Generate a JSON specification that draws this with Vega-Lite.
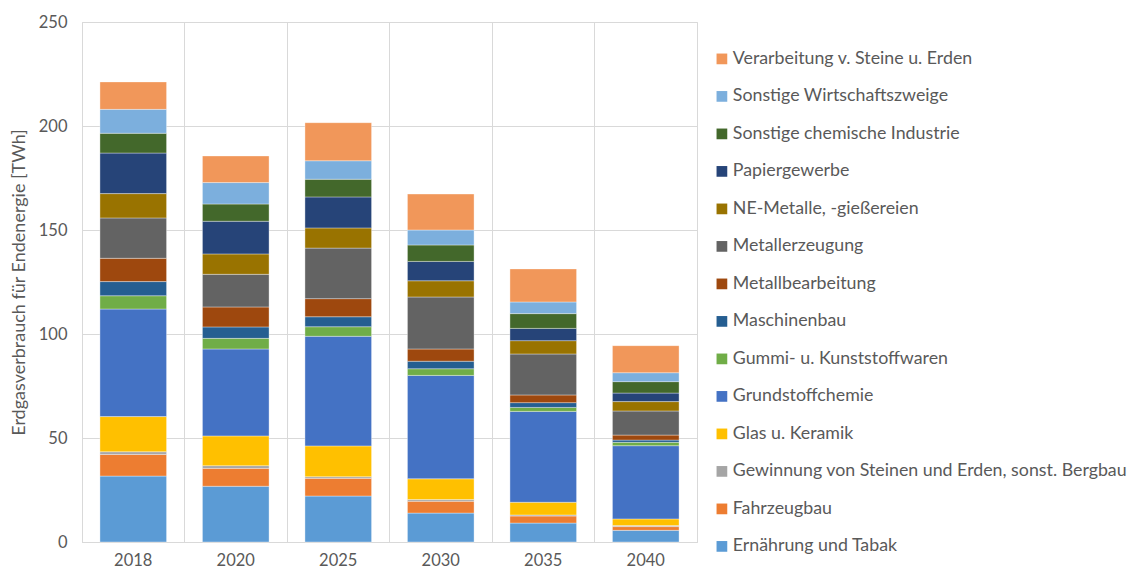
{
  "$schema": "https://vega.github.io/schema/vega-lite/v6.json",
  "autosize": {"type": "none"},
  "width": 615,
  "height": 520,
  "padding": {"left": 82, "top": 22, "right": 434, "bottom": 34},
  "background": "#ffffff",
  "config": {
    "font": "Lato",
    "view": {"stroke": "#d9d9d9", "strokeWidth": 1}
  },
  "datasets": {
    "reihenfolge": [
      {"Branche": "Ernährung und Tabak", "Rang": 1},
      {"Branche": "Fahrzeugbau", "Rang": 2},
      {"Branche": "Gewinnung von Steinen und Erden, sonst. Bergbau", "Rang": 3},
      {"Branche": "Glas u. Keramik", "Rang": 4},
      {"Branche": "Grundstoffchemie", "Rang": 5},
      {"Branche": "Gummi- u. Kunststoffwaren", "Rang": 6},
      {"Branche": "Maschinenbau", "Rang": 7},
      {"Branche": "Metallbearbeitung", "Rang": 8},
      {"Branche": "Metallerzeugung", "Rang": 9},
      {"Branche": "NE-Metalle, -gießereien", "Rang": 10},
      {"Branche": "Papiergewerbe", "Rang": 11},
      {"Branche": "Sonstige chemische Industrie", "Rang": 12},
      {"Branche": "Sonstige Wirtschaftszweige", "Rang": 13},
      {"Branche": "Verarbeitung v. Steine u. Erden", "Rang": 14}
    ]
  },
  "data": {
    "values": [
      {"Jahr": "2018", "Branche": "Ernährung und Tabak", "TWh": 31.7},
      {"Jahr": "2018", "Branche": "Fahrzeugbau", "TWh": 10.4},
      {"Jahr": "2018", "Branche": "Gewinnung von Steinen und Erden, sonst. Bergbau", "TWh": 1.3},
      {"Jahr": "2018", "Branche": "Glas u. Keramik", "TWh": 16.9},
      {"Jahr": "2018", "Branche": "Grundstoffchemie", "TWh": 51.7},
      {"Jahr": "2018", "Branche": "Gummi- u. Kunststoffwaren", "TWh": 6.4},
      {"Jahr": "2018", "Branche": "Maschinenbau", "TWh": 6.8},
      {"Jahr": "2018", "Branche": "Metallbearbeitung", "TWh": 11.2},
      {"Jahr": "2018", "Branche": "Metallerzeugung", "TWh": 19.4},
      {"Jahr": "2018", "Branche": "NE-Metalle, -gießereien", "TWh": 11.7},
      {"Jahr": "2018", "Branche": "Papiergewerbe", "TWh": 19.5},
      {"Jahr": "2018", "Branche": "Sonstige chemische Industrie", "TWh": 9.5},
      {"Jahr": "2018", "Branche": "Sonstige Wirtschaftszweige", "TWh": 11.5},
      {"Jahr": "2018", "Branche": "Verarbeitung v. Steine u. Erden", "TWh": 13.2},
      {"Jahr": "2020", "Branche": "Ernährung und Tabak", "TWh": 26.8},
      {"Jahr": "2020", "Branche": "Fahrzeugbau", "TWh": 8.6},
      {"Jahr": "2020", "Branche": "Gewinnung von Steinen und Erden, sonst. Bergbau", "TWh": 1.3},
      {"Jahr": "2020", "Branche": "Glas u. Keramik", "TWh": 14.3},
      {"Jahr": "2020", "Branche": "Grundstoffchemie", "TWh": 41.8},
      {"Jahr": "2020", "Branche": "Gummi- u. Kunststoffwaren", "TWh": 5.1},
      {"Jahr": "2020", "Branche": "Maschinenbau", "TWh": 5.5},
      {"Jahr": "2020", "Branche": "Metallbearbeitung", "TWh": 9.6},
      {"Jahr": "2020", "Branche": "Metallerzeugung", "TWh": 15.7},
      {"Jahr": "2020", "Branche": "NE-Metalle, -gießereien", "TWh": 9.8},
      {"Jahr": "2020", "Branche": "Papiergewerbe", "TWh": 15.7},
      {"Jahr": "2020", "Branche": "Sonstige chemische Industrie", "TWh": 8.3},
      {"Jahr": "2020", "Branche": "Sonstige Wirtschaftszweige", "TWh": 10.3},
      {"Jahr": "2020", "Branche": "Verarbeitung v. Steine u. Erden", "TWh": 12.8},
      {"Jahr": "2025", "Branche": "Ernährung und Tabak", "TWh": 22.1},
      {"Jahr": "2025", "Branche": "Fahrzeugbau", "TWh": 8.5},
      {"Jahr": "2025", "Branche": "Gewinnung von Steinen und Erden, sonst. Bergbau", "TWh": 0.8},
      {"Jahr": "2025", "Branche": "Glas u. Keramik", "TWh": 14.8},
      {"Jahr": "2025", "Branche": "Grundstoffchemie", "TWh": 52.7},
      {"Jahr": "2025", "Branche": "Gummi- u. Kunststoffwaren", "TWh": 4.6},
      {"Jahr": "2025", "Branche": "Maschinenbau", "TWh": 4.8},
      {"Jahr": "2025", "Branche": "Metallbearbeitung", "TWh": 8.7},
      {"Jahr": "2025", "Branche": "Metallerzeugung", "TWh": 24.3},
      {"Jahr": "2025", "Branche": "NE-Metalle, -gießereien", "TWh": 9.7},
      {"Jahr": "2025", "Branche": "Papiergewerbe", "TWh": 14.9},
      {"Jahr": "2025", "Branche": "Sonstige chemische Industrie", "TWh": 8.5},
      {"Jahr": "2025", "Branche": "Sonstige Wirtschaftszweige", "TWh": 8.9},
      {"Jahr": "2025", "Branche": "Verarbeitung v. Steine u. Erden", "TWh": 18.3},
      {"Jahr": "2030", "Branche": "Ernährung und Tabak", "TWh": 13.9},
      {"Jahr": "2030", "Branche": "Fahrzeugbau", "TWh": 5.7},
      {"Jahr": "2030", "Branche": "Gewinnung von Steinen und Erden, sonst. Bergbau", "TWh": 0.8},
      {"Jahr": "2030", "Branche": "Glas u. Keramik", "TWh": 10.0},
      {"Jahr": "2030", "Branche": "Grundstoffchemie", "TWh": 49.7},
      {"Jahr": "2030", "Branche": "Gummi- u. Kunststoffwaren", "TWh": 3.2},
      {"Jahr": "2030", "Branche": "Maschinenbau", "TWh": 3.6},
      {"Jahr": "2030", "Branche": "Metallbearbeitung", "TWh": 5.9},
      {"Jahr": "2030", "Branche": "Metallerzeugung", "TWh": 25.0},
      {"Jahr": "2030", "Branche": "NE-Metalle, -gießereien", "TWh": 7.8},
      {"Jahr": "2030", "Branche": "Papiergewerbe", "TWh": 9.3},
      {"Jahr": "2030", "Branche": "Sonstige chemische Industrie", "TWh": 7.9},
      {"Jahr": "2030", "Branche": "Sonstige Wirtschaftszweige", "TWh": 7.2},
      {"Jahr": "2030", "Branche": "Verarbeitung v. Steine u. Erden", "TWh": 17.3},
      {"Jahr": "2035", "Branche": "Ernährung und Tabak", "TWh": 9.1},
      {"Jahr": "2035", "Branche": "Fahrzeugbau", "TWh": 3.4},
      {"Jahr": "2035", "Branche": "Gewinnung von Steinen und Erden, sonst. Bergbau", "TWh": 0.5},
      {"Jahr": "2035", "Branche": "Glas u. Keramik", "TWh": 6.1},
      {"Jahr": "2035", "Branche": "Grundstoffchemie", "TWh": 43.7},
      {"Jahr": "2035", "Branche": "Gummi- u. Kunststoffwaren", "TWh": 1.9},
      {"Jahr": "2035", "Branche": "Maschinenbau", "TWh": 2.3},
      {"Jahr": "2035", "Branche": "Metallbearbeitung", "TWh": 3.7},
      {"Jahr": "2035", "Branche": "Metallerzeugung", "TWh": 19.7},
      {"Jahr": "2035", "Branche": "NE-Metalle, -gießereien", "TWh": 6.4},
      {"Jahr": "2035", "Branche": "Papiergewerbe", "TWh": 5.9},
      {"Jahr": "2035", "Branche": "Sonstige chemische Industrie", "TWh": 7.1},
      {"Jahr": "2035", "Branche": "Sonstige Wirtschaftszweige", "TWh": 5.6},
      {"Jahr": "2035", "Branche": "Verarbeitung v. Steine u. Erden", "TWh": 15.9},
      {"Jahr": "2040", "Branche": "Ernährung und Tabak", "TWh": 5.6},
      {"Jahr": "2040", "Branche": "Fahrzeugbau", "TWh": 1.8},
      {"Jahr": "2040", "Branche": "Gewinnung von Steinen und Erden, sonst. Bergbau", "TWh": 0.5},
      {"Jahr": "2040", "Branche": "Glas u. Keramik", "TWh": 3.2},
      {"Jahr": "2040", "Branche": "Grundstoffchemie", "TWh": 35.2},
      {"Jahr": "2040", "Branche": "Gummi- u. Kunststoffwaren", "TWh": 1.6},
      {"Jahr": "2040", "Branche": "Maschinenbau", "TWh": 1.1},
      {"Jahr": "2040", "Branche": "Metallbearbeitung", "TWh": 2.4},
      {"Jahr": "2040", "Branche": "Metallerzeugung", "TWh": 11.6},
      {"Jahr": "2040", "Branche": "NE-Metalle, -gießereien", "TWh": 4.5},
      {"Jahr": "2040", "Branche": "Papiergewerbe", "TWh": 4.1},
      {"Jahr": "2040", "Branche": "Sonstige chemische Industrie", "TWh": 5.5},
      {"Jahr": "2040", "Branche": "Sonstige Wirtschaftszweige", "TWh": 4.3},
      {"Jahr": "2040", "Branche": "Verarbeitung v. Steine u. Erden", "TWh": 13.0}
    ]
  },
  "transform": [
    {"lookup": "Branche", "from": {"data": {"name": "reihenfolge"}, "key": "Branche", "fields": ["Rang"]}}
  ],
  "mark": {"type": "bar", "width": {"band": 0.65}, "stroke": "#ffffff", "strokeWidth": 0.6, "strokeOpacity": 0.6},
  "encoding": {
    "x": {
      "field": "Jahr",
      "type": "nominal",
      "scale": {"paddingInner": 0, "paddingOuter": 0},
      "axis": {
        "title": null,
        "labelAngle": 0,
        "labelFontSize": 16.5,
        "labelColor": "#595959",
        "labelPadding": 10,
        "ticks": false,
        "domainColor": "#d9d9d9",
        "grid": true,
        "gridColor": "#d9d9d9",
        "bandPosition": 0
      }
    },
    "y": {
      "field": "TWh",
      "type": "quantitative",
      "stack": "zero",
      "scale": {"domain": [0, 250], "nice": false},
      "axis": {
        "title": "Erdgasverbrauch für Endenergie [TWh]",
        "titleFontSize": 18,
        "titleFontWeight": "normal",
        "titleColor": "#595959",
        "titlePadding": 10,
        "values": [0, 50, 100, 150, 200, 250],
        "labelFontSize": 16.5,
        "labelColor": "#595959",
        "labelPadding": 15,
        "ticks": false,
        "domain": false,
        "gridColor": "#d9d9d9"
      }
    },
    "order": {"field": "Rang", "type": "quantitative", "sort": "ascending"},
    "color": {
      "field": "Branche",
      "type": "nominal",
      "scale": {
        "domain": [
          "Verarbeitung v. Steine u. Erden",
          "Sonstige Wirtschaftszweige",
          "Sonstige chemische Industrie",
          "Papiergewerbe",
          "NE-Metalle, -gießereien",
          "Metallerzeugung",
          "Metallbearbeitung",
          "Maschinenbau",
          "Gummi- u. Kunststoffwaren",
          "Grundstoffchemie",
          "Glas u. Keramik",
          "Gewinnung von Steinen und Erden, sonst. Bergbau",
          "Fahrzeugbau",
          "Ernährung und Tabak"
        ],
        "range": ["#F1975A", "#7CAFDD", "#43682B", "#264478", "#997300", "#636363", "#9E480E", "#255E91", "#70AD47", "#4472C4", "#FFC000", "#A5A5A5", "#ED7D31", "#5B9BD5"]
      },
      "legend": {
        "title": null,
        "orient": "none",
        "legendX": 631,
        "legendY": 28,
        "symbolType": "square",
        "symbolSize": 115,
        "symbolStrokeWidth": 0,
        "labelFontSize": 17.8,
        "labelColor": "#595959",
        "labelOffset": 2,
        "labelLimit": 430,
        "rowPadding": 18.5
      }
    }
  }
}
